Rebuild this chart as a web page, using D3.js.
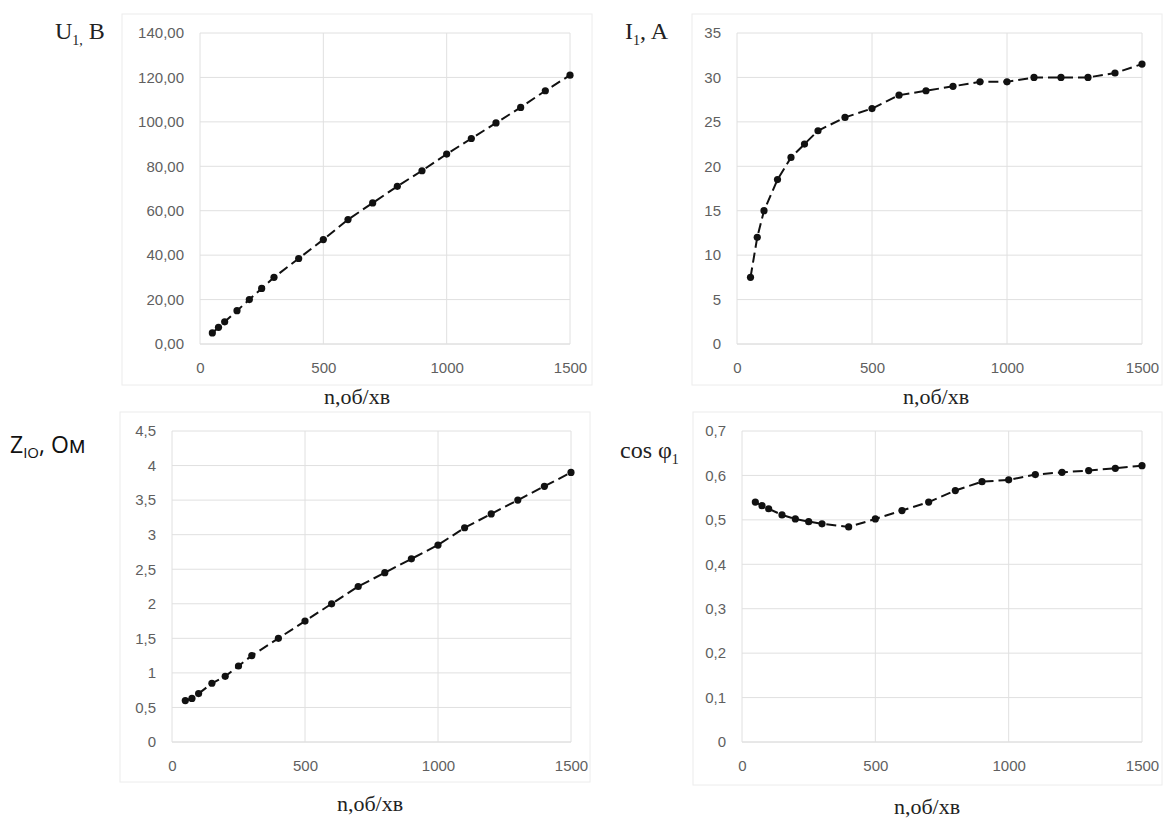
<!DOCTYPE html>
<html>
<head>
<meta charset="utf-8">
<script src="https://cdn.jsdelivr.net/npm/d3@7"></script>
<style>
  body { margin: 0; background: #fff; }
  svg { display: block; }
  .tick-label { font-family: "Liberation Sans", Arial, sans-serif; font-size: 15px; fill: #5f5f5f; }
  .serif-title { font-family: "Liberation Serif", "Times New Roman", serif; fill: #222; }
</style>
</head>
<body>
<div id="chart"></div>
<script>
// speed, rpm
var speed = [50, 75, 100, 150, 200, 250, 300, 400, 500, 600, 700, 800, 900, 1000, 1100, 1200, 1300, 1400, 1500];
// U1, V
var voltage = [5, 7.5, 10, 15, 20, 25, 30, 38.5, 47, 56, 63.5, 71, 78, 85.5, 92.5, 99.5, 106.5, 114, 121];
// I1, A
var current = [7.5, 12, 15, 18.5, 21, 22.5, 24, 25.5, 26.5, 28, 28.5, 29, 29.5, 29.5, 30, 30, 30, 30.5, 31.5];
// Z, Ohm
var impedance = [0.6, 0.63, 0.7, 0.85, 0.95, 1.1, 1.25, 1.5, 1.75, 2.0, 2.25, 2.45, 2.65, 2.85, 3.1, 3.3, 3.5, 3.7, 3.9];
// cos phi1
var powerFactor = [0.54, 0.532, 0.525, 0.511, 0.502, 0.496, 0.491, 0.484, 0.502, 0.521, 0.54, 0.566, 0.586, 0.59, 0.602, 0.607, 0.611, 0.616, 0.622];

var xTicks = [0, 500, 1000, 1500];
var yTicksU = [0, 20, 40, 60, 80, 100, 120, 140];
var yTicksI = [0, 5, 10, 15, 20, 25, 30, 35];
var yTicksZ = [0, 0.5, 1, 1.5, 2, 2.5, 3, 3.5, 4, 4.5];
var yTicksCos = [0, 0.1, 0.2, 0.3, 0.4, 0.5, 0.6, 0.7];

var W = 1165, H = 820;
var svg = d3.select("#chart").append("svg").attr("width", W).attr("height", H);

function comma(f) {
    return function(v) { return f(v).replace(".", ","); };
}

var panels = [
    { values: voltage, yTicks: yTicksU, fmt: comma(d3.format(".2f")),
      left: 200, right: 570, top: 33, bottom: 344,
      box: [122, 14, 592, 385], xTitle: [357, 404] },
    { values: current, yTicks: yTicksI, fmt: comma(d3.format("")),
      left: 737, right: 1142, top: 33, bottom: 344,
      box: [692, 14, 1162, 385], xTitle: [936, 404] },
    { values: impedance, yTicks: yTicksZ, fmt: comma(d3.format("")),
      left: 172, right: 571, top: 431, bottom: 742,
      box: [120, 412, 590, 782], xTitle: [370, 811] },
    { values: powerFactor, yTicks: yTicksCos, fmt: comma(d3.format("")),
      left: 742, right: 1142, top: 431, bottom: 742,
      box: [693, 412, 1162, 785], xTitle: [927, 814] }
];

panels.forEach(function(p) {
    var g = svg.append("g");

    // faint chart frame
    g.append("rect")
     .attr("x", p.box[0]).attr("y", p.box[1])
     .attr("width", p.box[2] - p.box[0]).attr("height", p.box[3] - p.box[1])
     .attr("fill", "none").attr("stroke", "#ececec");

    var x = d3.scaleLinear().domain([0, 1500]).range([p.left, p.right]);
    var y = d3.scaleLinear().domain([0, d3.max(p.yTicks)]).range([p.bottom, p.top]);

    // gridlines
    g.selectAll(".hgrid").data(p.yTicks).enter().append("line")
     .attr("x1", p.left).attr("x2", p.right)
     .attr("y1", function(d) { return y(d); }).attr("y2", function(d) { return y(d); })
     .attr("stroke", function(d) { return d === 0 ? "#d0d0d0" : "#e0e0e0"; })
     .attr("stroke-width", 1);

    g.selectAll(".vgrid").data(xTicks).enter().append("line")
     .attr("x1", function(d) { return x(d); }).attr("x2", function(d) { return x(d); })
     .attr("y1", p.top).attr("y2", p.bottom)
     .attr("stroke", "#e0e0e0").attr("stroke-width", 1);

    // axes (labels only)
    var yAxis = g.append("g")
     .attr("transform", "translate(" + (p.left - 8) + ",0)")
     .call(d3.axisLeft(y).tickValues(p.yTicks).tickFormat(p.fmt).tickSize(0).tickPadding(8));
    yAxis.select(".domain").remove();
    yAxis.selectAll("text").attr("class", "tick-label").attr("fill", null);

    var xAxis = g.append("g")
     .attr("transform", "translate(0," + (p.bottom + 16) + ")")
     .call(d3.axisBottom(x).tickValues(xTicks).tickFormat(d3.format("")).tickSize(0).tickPadding(2));
    xAxis.select(".domain").remove();
    xAxis.selectAll("text").attr("class", "tick-label").attr("fill", null);

    // data line
    var pts = speed.map(function(n, i) { return [n, p.values[i]]; });
    var line = d3.line()
        .x(function(d) { return x(d[0]); })
        .y(function(d) { return y(d[1]); });

    g.append("path")
     .datum(pts)
     .attr("fill", "none")
     .attr("stroke", "#111")
     .attr("stroke-width", 2)
     .attr("stroke-dasharray", "10,5")
     .attr("d", line);

    g.selectAll(".pt").data(pts).enter().append("circle")
     .attr("cx", function(d) { return x(d[0]); })
     .attr("cy", function(d) { return y(d[1]); })
     .attr("r", 3.6)
     .attr("fill", "#111");

    // x title
    g.append("text")
     .attr("class", "serif-title")
     .attr("x", p.xTitle[0]).attr("y", p.xTitle[1])
     .attr("text-anchor", "middle")
     .style("font-size", "22px")
     .text("n,об/хв");
});

// y titles
var t1 = svg.append("text").attr("class", "serif-title").attr("x", 55).attr("y", 39).style("font-size", "24px");
t1.append("tspan").text("U");
t1.append("tspan").attr("dy", 6).style("font-size", "14px").text("1,");
t1.append("tspan").attr("dy", -6).text(" B");

var t2 = svg.append("text").attr("class", "serif-title").attr("x", 625).attr("y", 39).style("font-size", "24px");
t2.append("tspan").text("I");
t2.append("tspan").attr("dy", 6).style("font-size", "14px").text("1");
t2.append("tspan").attr("dy", -6).text(", A");

var t3 = svg.append("text").attr("x", 10).attr("y", 453)
    .style("font-family", "'Open Sans', sans-serif").style("font-size", "23px").attr("fill", "#111");
t3.append("tspan").text("Z");
t3.append("tspan").attr("dy", 5).style("font-size", "15px").text("IO");
t3.append("tspan").attr("dy", -5).text(", Ом");

var t4 = svg.append("text").attr("class", "serif-title").attr("x", 620).attr("y", 458).style("font-size", "24px");
t4.append("tspan").text("cos φ");
t4.append("tspan").attr("dy", 6).style("font-size", "14px").text("1");
</script>
</body>
</html>
